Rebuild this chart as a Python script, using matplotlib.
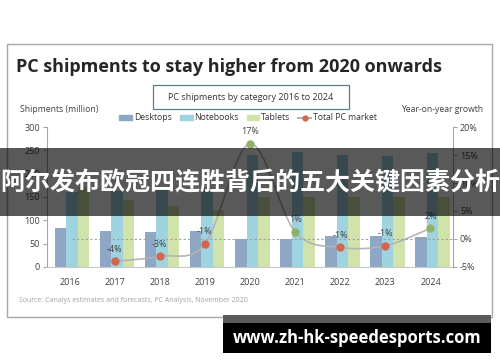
import numpy as np
import matplotlib.pyplot as plt
from matplotlib.patches import Rectangle, Patch
from matplotlib.lines import Line2D
from matplotlib.path import Path
from matplotlib.patches import PathPatch

plt.rcParams['font.family'] = ['Open Sans', 'DejaVu Sans']

years = ['2016', '2017', '2018', '2019', '2020', '2021', '2022', '2023', '2024']
desktops = [83, 78, 76, 78, 59, 59, 66, 66, 65]
notebooks = [160, 163, 165, 170, 240, 247, 240, 238, 244]
tablets = [172, 143, 131, 122, 151, 150, 150, 149, 150]
growth = [np.nan, -4.0, -3.1, -0.9, 17.0, 1.3, -1.5, -1.2, 1.9]
growth_labels = ['', '-4%', '-3%', '-1%', '17%', '1%', '-1%', '-1%', '2%']

W, H = 500, 362
fig = plt.figure(figsize=(5, 3.62), dpi=100)


def fx(px):
    return px / W


def fy(py):
    return 1 - py / H


def rect(x0, y0, x1, y1, **kw):
    r = Rectangle((fx(x0), fy(y1)), fx(x1) - fx(x0), fy(y0) - fy(y1),
                  transform=fig.transFigure, **kw)
    fig.add_artist(r)
    return r


# card
rect(7, 44, 492, 317, facecolor='white', edgecolor='#a8a8a8', lw=1, zorder=-1)
fig.text(fx(16), fy(67), 'PC shipments to stay higher from 2020 onwards',
         fontsize=13, fontweight='bold', color='#262626', va='center')
rect(153, 85, 349, 109, facecolor='white', edgecolor='#5a7e88', lw=0.9, zorder=-1)
fig.text(fx(251), fy(97), 'PC shipments by category 2016 to 2024',
         fontsize=6.5, color='#333333', ha='center', va='center')
fig.text(fx(20), fy(110), 'Shipments (million)', fontsize=6.2, color='#404040', va='center')
fig.text(fx(483), fy(110), 'Year-on-year growth', fontsize=6.2, color='#404040',
         va='center', ha='right')
fig.text(fx(19), fy(301), 'Source: Canalys estimates and forecasts, PC Analysis, November 2020',
         fontsize=5, color='#a0a0a0', va='center')

c_desk = '#8ea7c5'
c_note = '#9fd3e0'
c_tab = '#cfe3aa'
c_line = '#b4b4b4'
c_neg = '#d4654e'
c_pos = '#8fb26a'

ax = fig.add_axes([fx(47), fy(267), fx(453) - fx(47), fy(127) - fy(267)])
ax.set_facecolor('none')
x = np.arange(len(years))
w = 0.255
ax.bar(x - w + 0.05, desktops, w, color=c_desk)
ax.bar(x + 0.05, notebooks, w, color=c_note)
ax.bar(x + w + 0.05, tablets, w, color=c_tab)
ax.set_xlim(-0.5, len(years) - 0.5)
ax.set_ylim(0, 300)
ax.set_yticks(range(0, 301, 50))
ax.set_xticks(x)
ax.set_xticklabels(years)
for s in ['top', 'right']:
    ax.spines[s].set_visible(False)
ax.spines['left'].set_color('#a6a6a6')
ax.spines['bottom'].set_color('#c8c8c8')
ax.tick_params(axis='y', length=3, width=0.8, color='#a6a6a6', labelsize=6.5,
               labelcolor='#404040', pad=2)
ax.tick_params(axis='x', length=0, labelsize=6.5, labelcolor='#404040', pad=8)

ax2 = ax.twinx()
ax2.set_ylim(-5, 20)
ax2.set_yticks([-5, 0, 5, 10, 15, 20])
ax2.set_yticklabels(['-5%', '0%', '5%', '10%', '15%', '20%'])
for s in ['top', 'left', 'bottom']:
    ax2.spines[s].set_visible(False)
ax2.spines['right'].set_color('#a6a6a6')
ax2.tick_params(axis='y', length=3, width=0.8, color='#a6a6a6', labelsize=6.5,
                labelcolor='#404040', pad=2)
ax2.plot([0.05, len(years) - 0.5], [0, 0], ls=(0, (2, 2)), color='#a0a0a0', lw=0.8)

# smooth line through the growth points (Bezier path)
gx = [i for i in x if not np.isnan(growth[i])]
gy = [growth[i] for i in gx]
pts = np.column_stack([gx, gy]).astype(float)
verts = [pts[0]]
codes = [Path.MOVETO]
for i in range(len(pts) - 1):
    p0 = pts[i - 1] if i > 0 else pts[i]
    p1, p2 = pts[i], pts[i + 1]
    p3 = pts[i + 2] if i + 2 < len(pts) else pts[i + 1]
    verts += [p1 + (p2 - p0) / 6, p2 - (p3 - p1) / 6, p2]
    codes += [Path.CURVE4] * 3
ax2.add_patch(PathPatch(Path(verts, codes), facecolor='none', edgecolor=c_line, lw=1.2))
for xi, yi, lab in zip(x, growth, growth_labels):
    if np.isnan(yi):
        continue
    ax2.plot(xi, yi, 'o', ms=5, color=c_pos if yi > 0 else c_neg, zorder=5)
    ax2.annotate(lab, (xi, yi), xytext=(0, 7), textcoords='offset points',
                 ha='center', fontsize=6.5, color='#404040')

handles = [Patch(color=c_desk, label='Desktops'),
           Patch(color=c_note, label='Notebooks'),
           Patch(color=c_tab, label='Tablets'),
           Line2D([], [], color=c_line, marker='o', ms=3.5, mfc=c_neg, mec=c_neg,
                  label='Total PC market')]
fig.legend(handles=handles, loc='center', bbox_to_anchor=(fx(248), fy(118)),
           ncol=4, frameon=False, fontsize=6.2, handlelength=1.5, handleheight=0.6,
           handletextpad=0.2, columnspacing=0.9, labelcolor='#333333')

# overlay banner
rect(0, 148, 500, 216, facecolor='black', alpha=0.65, lw=0, zorder=10)
fig.text(fx(250), fy(183), '阿尔发布欧冠四连胜背后的五大关键因素分析',
         fontsize=18, fontweight='bold', color='white', ha='center', va='center',
         family=['Noto Sans CJK SC', 'DejaVu Sans'], zorder=11)

# bottom banner
rect(223, 315, 491, 353, facecolor='black', lw=0, zorder=10)
rect(223, 315, 491, 323, facecolor='#5c5c5c', lw=0, zorder=11)
fig.text(fx(357), fy(338), 'www.zh-hk-speedesports.com', fontsize=12,
         fontweight='bold', color='white', ha='center', va='center', zorder=12)

fig.savefig('out.png', dpi=100)
